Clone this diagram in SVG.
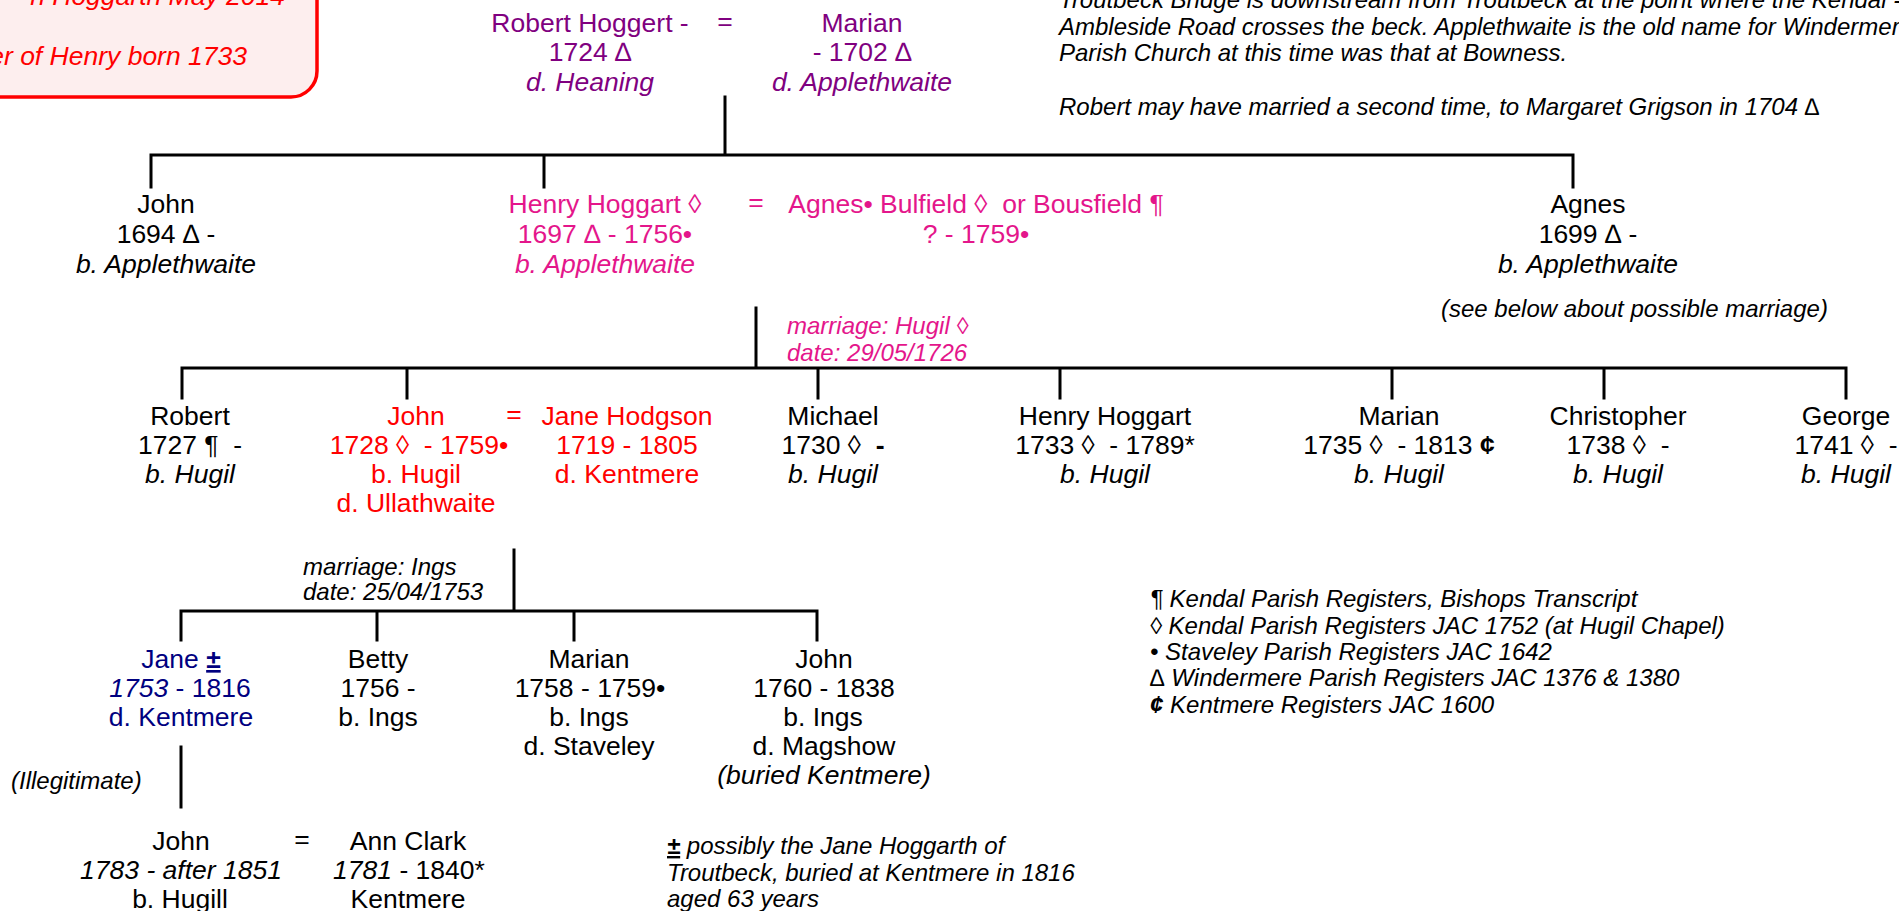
<svg xmlns="http://www.w3.org/2000/svg" width="1899" height="911" viewBox="0 0 1899 911">
<style>
text{font-family:"Liberation Sans",Arial,sans-serif;font-size:26.5px;text-anchor:middle;fill:#000;white-space:pre}
.s{font-size:24px;font-style:italic;text-anchor:start}
.e{text-anchor:end}
.i{font-style:italic}
.b{font-weight:bold}
.u{text-decoration:underline}
.pu{fill:#800080}
.pk{fill:#e4168b}
.rd{fill:#ff0000}
.nv{fill:#000080}
.ln{stroke:#000;stroke-width:3;fill:none;stroke-linecap:square}
</style>
<rect width="1899" height="911" fill="#fff"/>
<g id="infobox">
<rect x="-40" y="-40" width="357" height="137" rx="26" ry="26" fill="#fdeeee" stroke="#ff0000" stroke-width="3.5"/>
<text class="i rd e" x="285" y="5">n Hoggarth May 2014</text>
<text class="i rd e" x="247" y="65">er of Henry born 1733</text>
</g>
<g id="notes-top">
<text class="s" x="1059" y="8">Troutbeck Bridge is downstream from Troutbeck at the point where the Kendal -</text>
<text class="s" x="1059" y="35">Ambleside Road crosses the beck. Applethwaite is the old name for Windermere</text>
<text class="s" x="1059" y="61">Parish Church at this time was that at Bowness.</text>
<text class="s" x="1059" y="115">Robert may have married a second time, to Margaret Grigson in 1704 ∆</text>
</g>
<g id="connectors">
<path class="ln" d="M725 97V155M151 187V155H1573V187M544 155V187"/>
<path class="ln" d="M756 308V368M182 398V368H1846V398M407 368V398M818 368V398M1060 368V398M1392 368V398M1604 368V398"/>
<path class="ln" d="M514 550V611M181 640V611H817V640M377 611V640M574 611V640"/>
<path class="ln" d="M181 747V807" stroke-width="4"/>
</g>
<g id="robert-hoggert">
<text class="pu" x="590" y="32">Robert Hoggert -</text>
<text class="pu" x="590" y="61">1724 ∆</text>
<text class="pu i" x="590" y="91">d. Heaning</text>
</g>
<text class="pu" x="725" y="30">=</text>
<g id="marian-sr">
<text class="pu" x="862" y="32">Marian</text>
<text class="pu" x="862" y="61">- 1702 ∆</text>
<text class="pu i" x="862" y="91">d. Applethwaite</text>
</g>
<g id="john-1694">
<text x="166" y="213">John</text>
<text x="166" y="243">1694 ∆ -</text>
<text class="i" x="166" y="273">b. Applethwaite</text>
</g>
<g id="henry-1697">
<text class="pk" x="605" y="213">Henry Hoggart ◊</text>
<text class="pk" x="605" y="243">1697 ∆ - 1756•</text>
<text class="pk i" x="605" y="273">b. Applethwaite</text>
</g>
<text class="pk" x="756" y="211">=</text>
<g id="agnes-bulfield">
<text class="pk" x="976" y="213">Agnes• Bulfield ◊  or Bousfield ¶</text>
<text class="pk" x="976" y="243">? - 1759•</text>
</g>
<g id="agnes-1699">
<text x="1588" y="213">Agnes</text>
<text x="1588" y="243">1699 ∆ -</text>
<text class="i" x="1588" y="273">b. Applethwaite</text>
<text class="s" x="1441" y="317">(see below about possible marriage)</text>
</g>
<g id="marriage-hugil">
<text class="s pk" x="787" y="334">marriage: Hugil ◊</text>
<text class="s pk" x="787" y="361">date: 29/05/1726</text>
</g>
<g id="robert-1727">
<text x="190" y="425">Robert</text>
<text x="190" y="454">1727 ¶  -</text>
<text class="i" x="190" y="483">b. Hugil</text>
</g>
<g id="john-1728">
<text class="rd" x="416" y="425">John</text>
<text class="rd" x="419" y="454">1728 ◊  - 1759•</text>
<text class="rd" x="416" y="483">b. Hugil</text>
<text class="rd" x="416" y="512">d. Ullathwaite</text>
</g>
<text class="rd" x="514" y="423">=</text>
<g id="jane-hodgson">
<text class="rd" x="627" y="425">Jane Hodgson</text>
<text class="rd" x="627" y="454">1719 - 1805</text>
<text class="rd" x="627" y="483">d. Kentmere</text>
</g>
<g id="michael-1730">
<text x="833" y="425">Michael</text>
<text x="833" y="454">1730 ◊  <tspan class="b">-</tspan></text>
<text class="i" x="833" y="483">b. Hugil</text>
</g>
<g id="henry-1733">
<text x="1105" y="425">Henry Hoggart</text>
<text x="1105" y="454">1733 ◊  - 1789*</text>
<text class="i" x="1105" y="483">b. Hugil</text>
</g>
<g id="marian-1735">
<text x="1399" y="425">Marian</text>
<text x="1399" y="454">1735 ◊  - 1813 <tspan class="b">¢</tspan></text>
<text class="i" x="1399" y="483">b. Hugil</text>
</g>
<g id="christopher-1738">
<text x="1618" y="425">Christopher</text>
<text x="1618" y="454">1738 ◊  -</text>
<text class="i" x="1618" y="483">b. Hugil</text>
</g>
<g id="george-1741">
<text x="1846" y="425">George</text>
<text x="1846" y="454">1741 ◊  -</text>
<text class="i" x="1846" y="483">b. Hugil</text>
</g>
<g id="marriage-ings">
<text class="s" x="303" y="575">marriage: Ings</text>
<text class="s" x="303" y="600">date: 25/04/1753</text>
</g>
<g id="jane-1753">
<text class="nv" x="181" y="668">Jane <tspan class="b u">±</tspan></text>
<text class="nv" x="180" y="697"><tspan class="i">1753</tspan> - 1816</text>
<text class="nv" x="181" y="726">d. Kentmere</text>
</g>
<g id="betty-1756">
<text x="378" y="668">Betty</text>
<text x="378" y="697">1756 -</text>
<text x="378" y="726">b. Ings</text>
</g>
<g id="marian-1758">
<text x="589" y="668">Marian</text>
<text x="590" y="697">1758 - 1759•</text>
<text x="589" y="726">b. Ings</text>
<text x="589" y="755">d. Staveley</text>
</g>
<g id="john-1760">
<text x="824" y="668">John</text>
<text x="824" y="697">1760 - 1838</text>
<text x="823" y="726">b. Ings</text>
<text x="824" y="755">d. Magshow</text>
<text class="i" x="824" y="784">(buried Kentmere)</text>
</g>
<text class="s" x="11" y="789">(Illegitimate)</text>
<g id="john-1783">
<text x="181" y="850">John</text>
<text class="i" x="181" y="879">1783 - after 1851</text>
<text x="180" y="908">b. Hugill</text>
</g>
<text x="302" y="848">=</text>
<g id="ann-clark">
<text x="408" y="850">Ann Clark</text>
<text x="409" y="879"><tspan class="i">1781</tspan> - 1840*</text>
<text x="408" y="908">Kentmere</text>
</g>
<g id="note-jane">
<text class="s" x="667" y="854"><tspan class="b u">±</tspan> possibly the Jane Hoggarth of</text>
<text class="s" x="667" y="881">Troutbeck, buried at Kentmere in 1816</text>
<text class="s" x="667" y="907">aged 63 years</text>
</g>
<g id="footnotes">
<text class="s" x="1150" y="607">¶ Kendal Parish Registers, Bishops Transcript</text>
<text class="s" x="1150" y="634">◊ Kendal Parish Registers JAC 1752 (at Hugil Chapel)</text>
<text class="s" x="1150" y="660">• Staveley Parish Registers JAC 1642</text>
<text class="s" x="1150" y="686">∆ Windermere Parish Registers JAC 1376 &amp; 1380</text>
<text class="s" x="1150" y="713"><tspan class="b">¢</tspan> Kentmere Registers JAC 1600</text>
</g>
</svg>
